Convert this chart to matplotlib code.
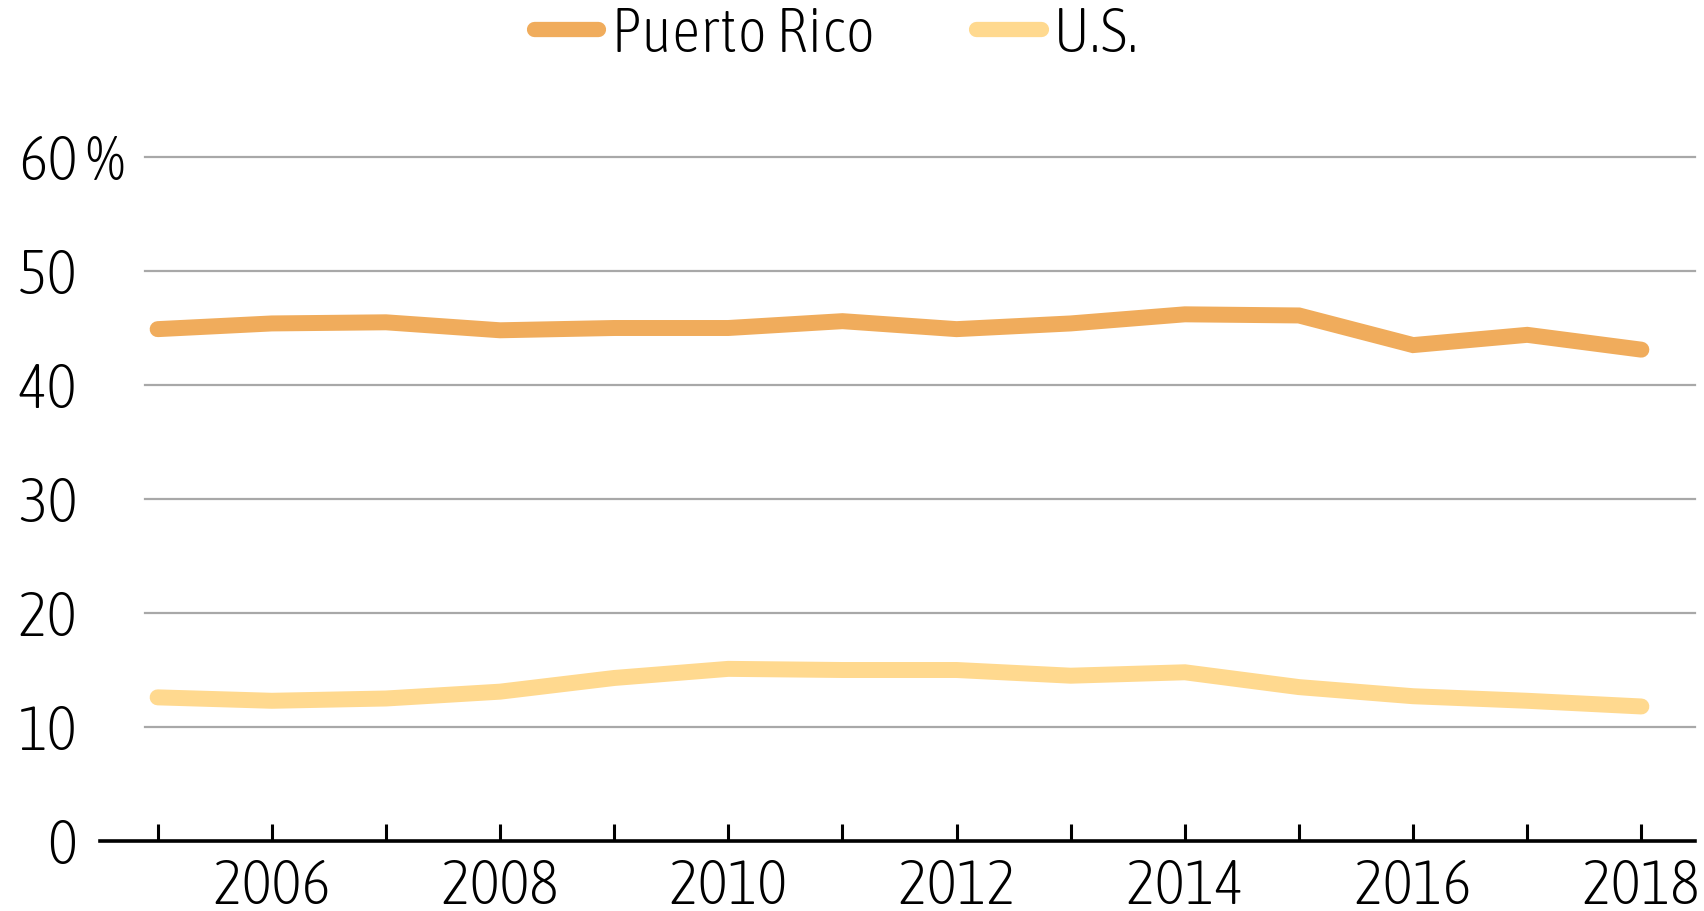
import matplotlib
matplotlib.use("Agg")
import matplotlib.pyplot as plt
from matplotlib import font_manager
from matplotlib.transforms import blended_transform_factory, ScaledTranslation

years = list(range(2005, 2019))
puerto_rico = [44.9, 45.4, 45.5, 44.8, 45.0, 45.0, 45.6, 44.9, 45.4, 46.2, 46.1, 43.5, 44.4, 43.1]
us = [12.6, 12.3, 12.5, 13.1, 14.3, 15.1, 15.0, 15.0, 14.5, 14.8, 13.5, 12.7, 12.3, 11.8]
series_names = ["Puerto Rico", "U.S."]
ytick_vals = [0, 10, 20, 30, 40, 50, 60]
ytick_labels = ["0", "10", "20", "30", "40", "50", "60"]
xtick_vals = [2006, 2008, 2010, 2012, 2014, 2016, 2018]

fonts = font_manager.fontManager.ttflist
family = "DejaVu Sans"
weight = "normal"
light = [f.name for f in fonts if ("Condensed" in f.name or "Narrow" in f.name)
         and f.weight in (200, 300, "light", "extra-light")]
if light:
    family = light[0]
    weight = "light"
else:
    available = {f.name for f in fonts}
    for cand in ["Roboto Condensed", "Liberation Sans Narrow", "Liberation Sans"]:
        if cand in available:
            family = cand
            break
plt.rcParams["font.family"] = [family, "DejaVu Sans"]
plt.rcParams["font.weight"] = weight

FS = 45.5
c_pr = "#F0AC5C"
c_us = "#FFD98F"

fig = plt.figure(figsize=(17.04, 9.12), dpi=100)
ax = fig.add_axes([100 / 1704, (912 - 842) / 912, 1595 / 1704, (842 - 158) / 912])

ax.set_xlim(2004.495, 2018.47)
ax.set_ylim(0, 60)

for v in ytick_vals[1:]:
    ax.axhline(v, xmin=0.028, xmax=1.0, color="#A8A8A8", lw=1.6, zorder=1, clip_on=False)

ax.plot(years, puerto_rico, color=c_pr, lw=11.5, solid_capstyle="round",
        solid_joinstyle="miter", label=series_names[0], zorder=3)
ax.plot(years, us, color=c_us, lw=11.5, solid_capstyle="round",
        solid_joinstyle="miter", label=series_names[1], zorder=3)

for s in ["top", "right", "left"]:
    ax.spines[s].set_visible(False)
ax.spines["bottom"].set_linewidth(2.6)
ax.spines["bottom"].set_color("black")
ax.spines["bottom"].set_zorder(4)

ax.set_xticks(years, minor=True)
ax.set_xticks(xtick_vals)
ax.set_xticklabels([str(x) for x in xtick_vals])
ax.tick_params(axis="x", which="both", direction="in", length=12.5, width=2.2,
               color="black")
ax.tick_params(axis="x", which="major", labelsize=FS, pad=11)

ax.set_yticks(ytick_vals)
ax.set_yticklabels([])
ax.tick_params(axis="y", length=0)

shift = ScaledTranslation(0, -5 / 100, fig.dpi_scale_trans)
trans = blended_transform_factory(fig.transFigure, ax.transData) + shift
for v, lab in zip(ytick_vals, ytick_labels):
    fig.text(77 / 1704, v, lab, transform=trans, fontsize=FS, ha="right", va="center")
fig.text(85 / 1704, 60, "%", transform=trans, fontsize=FS, ha="left", va="center")

leg = fig.legend(loc="center", bbox_to_anchor=(0.491, 0.962), ncol=2, frameon=False,
                 fontsize=FS, handlelength=1.02, handletextpad=0.2,
                 columnspacing=1.6)
for line in leg.get_lines():
    line.set_linewidth(11)
    line.set_solid_capstyle("round")

fig.savefig("out.png", dpi=100)
